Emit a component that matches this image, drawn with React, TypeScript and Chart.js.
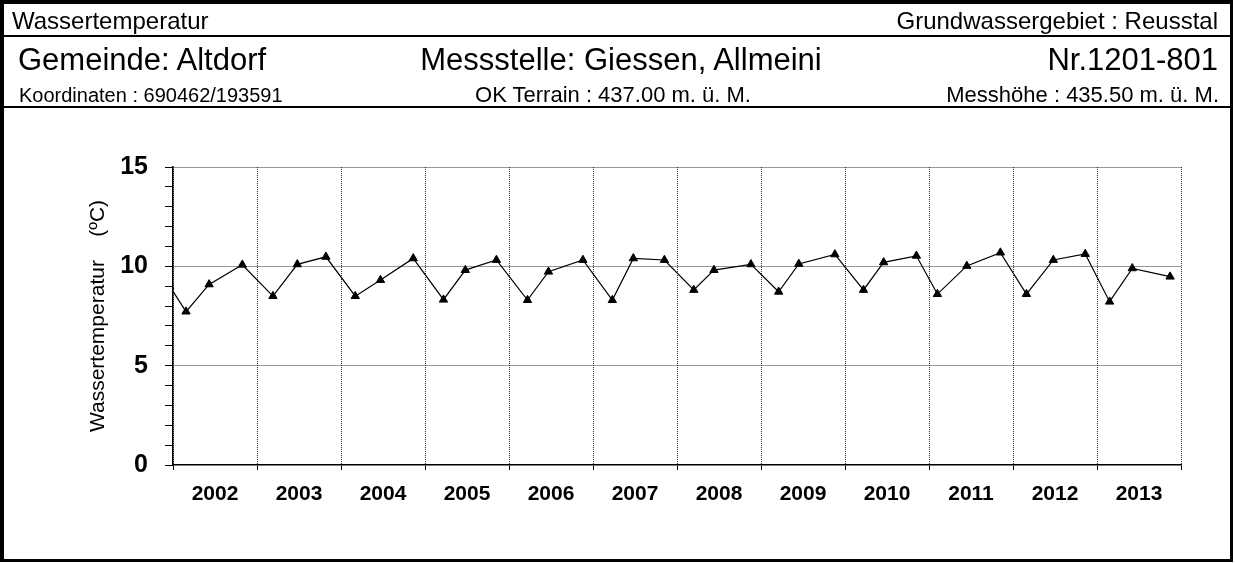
import React, { useEffect, useRef } from 'react';
import { Chart, registerables } from 'chart.js';

Chart.register(...registerables);

// ---- data ----
const years = [2002, 2003, 2004, 2005, 2006, 2007, 2008, 2009, 2010, 2011, 2012, 2013];
const sampleTimes = [
  2001.96, 2002.155, 2002.43, 2002.825,
  2003.19, 2003.48, 2003.82,
  2004.17, 2004.47, 2004.86,
  2005.22, 2005.48, 2005.85,
  2006.22, 2006.47, 2006.88,
  2007.23, 2007.48, 2007.85,
  2008.2, 2008.44, 2008.88,
  2009.21, 2009.45, 2009.88,
  2010.22, 2010.46, 2010.85,
  2011.1, 2011.45, 2011.85,
  2012.16, 2012.48, 2012.86,
  2013.15, 2013.42, 2013.87,
];
const temperatures = [
  9.0, 7.72, 9.09, 10.08,
  8.5, 10.1, 10.48,
  8.5, 9.31, 10.4,
  8.32, 9.81, 10.32,
  8.3, 9.73, 10.32,
  8.3, 10.4, 10.32,
  8.81, 9.81, 10.1,
  8.72, 10.12, 10.6,
  8.81, 10.2, 10.53,
  8.6, 10.02, 10.69,
  8.6, 10.32, 10.62,
  8.22, 9.9, 9.48,
];
const yMin = 0;
const yMax = 15;
const yLabelStep = 5;
const yTitle = 'Wassertemperatur    (ºC)';

const FONT = '"Liberation Sans", Arial, Helvetica, sans-serif';

export default function App() {
  const canvasRef = useRef<HTMLCanvasElement | null>(null);

  useEffect(() => {
    document.body.style.margin = '0';
    const canvas = canvasRef.current;
    if (!canvas) return;
    const xMin = years[0];
    const xMax = years[years.length - 1] + 1;
    const chart = new Chart(canvas, {
      type: 'line',
      data: {
        datasets: [
          {
            data: sampleTimes.map((t, i) => ({ x: t, y: temperatures[i] })),
            borderColor: '#000',
            borderWidth: 1.2,
            pointStyle: 'triangle',
            pointRadius: 4.8,
            pointBackgroundColor: '#000',
            pointBorderColor: '#000',
            pointBorderWidth: 1,
            tension: 0,
            clip: { left: 0, top: false, right: false, bottom: false } as any,
          },
        ],
      },
      options: {
        animation: false,
        responsive: false,
        maintainAspectRatio: false,
        layout: { padding: { top: 167, right: 1235 - 1181, bottom: 0, left: 0 } },
        plugins: { legend: { display: false }, tooltip: { enabled: false } },
        scales: {
          x: {
            type: 'linear',
            min: xMin,
            max: xMax,
            afterBuildTicks: (axis: any) => {
              const t: any[] = [];
              for (let y = xMin; y <= xMax; y++) {
                t.push({ value: y });
                if (y < xMax) t.push({ value: y + 0.5 });
              }
              axis.ticks = t;
            },
            afterFit: (s: any) => {
              s.height = 563 - 465;
            },
            grid: {
              color: (ctx: any) => (Number.isInteger(ctx.tick?.value) ? '#333' : 'rgba(0,0,0,0)'),
              tickColor: (ctx: any) => (Number.isInteger(ctx.tick?.value) ? '#000' : 'rgba(0,0,0,0)'),
              tickLength: 5,
              lineWidth: 1,
            },
            border: { color: '#000', width: 1.5, dash: [1, 1] },
            ticks: {
              autoSkip: false,
              maxRotation: 0,
              minRotation: 0,
              padding: 12,
              color: '#000',
              font: { family: FONT, weight: 'bold', size: 21 },
              callback: (v: any) => (Number.isInteger(v) ? '' : String(Math.floor(v))),
            },
          },
          y: {
            type: 'linear',
            min: yMin,
            max: yMax,
            afterFit: (s: any) => {
              s.width = 173;
            },
            grid: {
              color: (ctx: any) => {
                const v = ctx.tick?.value;
                return v % yLabelStep === 0 && v !== yMin ? '#333' : 'rgba(0,0,0,0)';
              },
              tickColor: '#000',
              tickLength: 8,
              lineWidth: 1,
            },
            border: { color: '#000', width: 1.5, dash: [1, 1] },
            ticks: {
              stepSize: 1,
              autoSkip: false,
              padding: 17,
              color: '#000',
              font: { family: FONT, weight: 'bold', size: 25 },
              callback: (v: any) => (v % yLabelStep === 0 ? String(v) : ''),
            },
            title: {
              display: true,
              text: yTitle,
              color: '#000',
              font: { family: FONT, size: 21, weight: 'normal' },
              padding: { top: 86, bottom: 0 },
            },
          },
        },
      },
    });
    return () => chart.destroy();
  }, []);

  const txt = (style: React.CSSProperties): React.CSSProperties => ({
    position: 'absolute',
    lineHeight: 1,
    whiteSpace: 'nowrap',
    color: '#000',
    fontFamily: FONT,
    ...style,
  });

  return (
    <div style={{ position: 'relative', width: 1235, height: 563, background: '#fff', overflow: 'hidden' }}>
      <canvas ref={canvasRef} width={1235} height={563} style={{ position: 'absolute', left: 0, top: 0 }} />
      <div
        style={{
          position: 'absolute',
          left: 0,
          top: 0,
          width: 1233,
          height: 562,
          boxSizing: 'border-box',
          borderStyle: 'solid',
          borderColor: '#000',
          borderWidth: '4px 3px 3px 4px',
          pointerEvents: 'none',
        }}
      />
      <div style={{ position: 'absolute', left: 0, top: 35, width: 1233, height: 2, background: '#000' }} />
      <div style={{ position: 'absolute', left: 0, top: 106, width: 1233, height: 2, background: '#000' }} />

      <div style={txt({ left: 12, top: 9, fontSize: 24 })}>Wassertemperatur</div>
      <div style={txt({ right: 17, top: 9, fontSize: 24 })}>Grundwassergebiet : Reusstal</div>

      <div style={txt({ left: 18, top: 44, fontSize: 31 })}>Gemeinde: Altdorf</div>
      <div style={txt({ left: 0, width: 1242, textAlign: 'center', top: 44, fontSize: 31 })}>Messstelle: Giessen, Allmeini</div>
      <div style={txt({ right: 17, top: 44, fontSize: 31 })}>Nr.1201-801</div>

      <div style={txt({ left: 19, top: 85, fontSize: 20 })}>Koordinaten : 690462/193591</div>
      <div style={txt({ left: 0, width: 1226, textAlign: 'center', top: 84, fontSize: 22 })}>OK Terrain : 437.00 m. ü. M.</div>
      <div style={txt({ right: 16, top: 84, fontSize: 22 })}>Messhöhe : 435.50 m. ü. M.</div>
    </div>
  );
}
